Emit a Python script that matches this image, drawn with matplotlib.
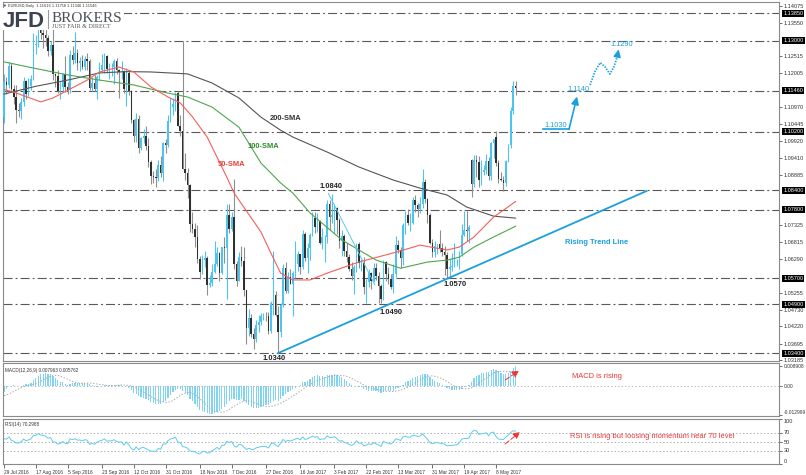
import matplotlib
matplotlib.use('Agg')
import matplotlib.pyplot as plt
import matplotlib.transforms as mtrans
from matplotlib.patches import Rectangle
from matplotlib.lines import Line2D
import numpy as np
import pandas as pd

plt.rcParams['font.family'] = ['Liberation Sans', 'DejaVu Sans']
plt.rcParams['lines.scale_dashes'] = False

# ---- EURUSD daily candles, 29 Jul 2016 .. 18 May 2017 (one row = 10 bars)
opens = [
    1.1067, 1.1174, 1.1165, 1.1223, 1.1151, 1.1128, 1.1086, 1.1085, 1.1112, 1.1177,
    1.1136, 1.1162, 1.1183, 1.1287, 1.1289, 1.1353, 1.1325, 1.1318, 1.1307, 1.1267,
    1.1287, 1.1199, 1.1193, 1.1146, 1.1157, 1.1197, 1.1157, 1.1150, 1.1255, 1.1240,
    1.1262, 1.1233, 1.1238, 1.1219, 1.1245, 1.1238, 1.1154, 1.1169, 1.1152, 1.1189,
    1.1211, 1.1225, 1.1254, 1.1213, 1.1219, 1.1220, 1.1239, 1.1210, 1.1204, 1.1206,
    1.1153, 1.1200, 1.1144, 1.1055, 1.1006, 1.1059, 1.0969, 1.1001, 1.1007, 1.0975,
    1.0928, 1.0885, 1.0880, 1.0877, 1.0917, 1.0893, 1.0985, 1.0981, 1.1053, 1.1097,
    1.1107, 1.1138, 1.1039, 1.1023, 1.0907, 1.0894, 1.0856, 1.0737, 1.0720, 1.0696,
    1.0629, 1.0588, 1.0627, 1.0633, 1.0551, 1.0555, 1.0589, 1.0613, 1.0649, 1.0586,
    1.0665, 1.0663, 1.0763, 1.0720, 1.0759, 1.0615, 1.0562, 1.0636, 1.0624, 1.0533,
    1.0417, 1.0448, 1.0399, 1.0384, 1.0426, 1.0437, 1.0455, 1.0455, 1.0453, 1.0408,
    1.0494, 1.0520, 1.0456, 1.0404, 1.0488, 1.0603, 1.0531, 1.0574, 1.0554, 1.0586,
    1.0615, 1.0644, 1.0604, 1.0705, 1.0633, 1.0662, 1.0704, 1.0754, 1.0727, 1.0747,
    1.0677, 1.0696, 1.0697, 1.0799, 1.0759, 1.0764, 1.0786, 1.0748, 1.0684, 1.0700,
    1.0654, 1.0637, 1.0600, 1.0576, 1.0604, 1.0676, 1.0617, 1.0617, 1.0542, 1.0558,
    1.0586, 1.0561, 1.0603, 1.0576, 1.0546, 1.0505, 1.0620, 1.0582, 1.0567, 1.0543,
    1.0582, 1.0671, 1.0658, 1.0633, 1.0733, 1.0764, 1.0740, 1.0741, 1.0810, 1.0796,
    1.0782, 1.0797, 1.0865, 1.0815, 1.0765, 1.0678, 1.0651, 1.0668, 1.0675, 1.0662,
    1.0650, 1.0643, 1.0598, 1.0605, 1.0609, 1.0613, 1.0615, 1.0644, 1.0704, 1.0717,
    1.0715, 1.0935, 1.0860, 1.0932, 1.0926, 1.0873, 1.0896, 1.0902, 1.0929, 1.0883,
    1.0986, 1.1005, 1.0925, 1.0874, 1.0871, 1.0864, 1.0931, 1.0980, 1.1085, 1.11616,
]
highs = [
    1.1198, 1.1189, 1.1234, 1.1230, 1.1164, 1.1164, 1.1110, 1.1124, 1.1187, 1.1180,
    1.1186, 1.1196, 1.1323, 1.1318, 1.1366, 1.1360, 1.1338, 1.1347, 1.1318, 1.1300,
    1.1342, 1.1200, 1.1209, 1.1174, 1.1201, 1.1252, 1.1173, 1.1270, 1.1284, 1.1327,
    1.1276, 1.1251, 1.1256, 1.1253, 1.1262, 1.1243, 1.1189, 1.1195, 1.1196, 1.1234,
    1.1258, 1.1261, 1.1256, 1.1232, 1.1230, 1.1244, 1.1248, 1.1212, 1.1238, 1.1211,
    1.1215, 1.1207, 1.1150, 1.1058, 1.1079, 1.1071, 1.1005, 1.1030, 1.1039, 1.1000,
    1.0932, 1.0900, 1.0905, 1.0933, 1.0946, 1.0989, 1.0999, 1.1071, 1.1124, 1.1123,
    1.1143, 1.1144, 1.1072, 1.1300, 1.0955, 1.0909, 1.0859, 1.0774, 1.0741, 1.0734,
    1.0640, 1.0641, 1.0653, 1.0638, 1.0579, 1.0614, 1.0686, 1.0666, 1.0652, 1.0666,
    1.0696, 1.0797, 1.0798, 1.0774, 1.0874, 1.0622, 1.0652, 1.0670, 1.0667, 1.0535,
    1.0475, 1.0460, 1.0418, 1.0442, 1.0456, 1.0462, 1.0462, 1.0467, 1.0466, 1.0500,
    1.0653, 1.0530, 1.0485, 1.0493, 1.0615, 1.0620, 1.0590, 1.0598, 1.0593, 1.0685,
    1.0653, 1.0645, 1.0719, 1.0711, 1.0680, 1.0708, 1.0774, 1.0775, 1.0770, 1.0749,
    1.0724, 1.0704, 1.0810, 1.0811, 1.0829, 1.0797, 1.0789, 1.0755, 1.0717, 1.0706,
    1.0677, 1.0646, 1.0620, 1.0610, 1.0679, 1.0681, 1.0629, 1.0634, 1.0567, 1.0600,
    1.0590, 1.0618, 1.0617, 1.0590, 1.0554, 1.0627, 1.0624, 1.0605, 1.0584, 1.0615,
    1.0699, 1.0689, 1.0666, 1.0739, 1.0777, 1.0783, 1.0772, 1.0819, 1.0825, 1.0802,
    1.0820, 1.0906, 1.0875, 1.0818, 1.0770, 1.0691, 1.0684, 1.0676, 1.0718, 1.0680,
    1.0668, 1.0650, 1.0628, 1.0648, 1.0677, 1.0628, 1.0654, 1.0737, 1.0777, 1.0778,
    1.0735, 1.0938, 1.0950, 1.0948, 1.0946, 1.0935, 1.0919, 1.0951, 1.0943, 1.0990,
    1.0999, 1.1023, 1.0935, 1.0898, 1.0884, 1.0935, 1.0983, 1.1095, 1.1175, 1.11758,
]
lows = [
    1.1046, 1.1137, 1.1155, 1.1143, 1.1107, 1.1046, 1.1066, 1.1059, 1.1100, 1.1122,
    1.1130, 1.1150, 1.1180, 1.1258, 1.1281, 1.1305, 1.1279, 1.1285, 1.1253, 1.1255,
    1.1180, 1.1157, 1.1140, 1.1122, 1.1146, 1.1143, 1.1136, 1.1140, 1.1229, 1.1230,
    1.1210, 1.1206, 1.1213, 1.1211, 1.1209, 1.1148, 1.1147, 1.1146, 1.1121, 1.1180,
    1.1207, 1.1201, 1.1201, 1.1181, 1.1191, 1.1167, 1.1198, 1.1123, 1.1183, 1.1139,
    1.1100, 1.1134, 1.1048, 1.0990, 1.0988, 1.0956, 1.0963, 1.0985, 1.0965, 1.0911,
    1.0859, 1.0862, 1.0851, 1.0870, 1.0880, 1.0870, 1.0954, 1.0973, 1.1049, 1.1071,
    1.1085, 1.1038, 1.1008, 1.0905, 1.0872, 1.0816, 1.0712, 1.0709, 1.0665, 1.0618,
    1.0569, 1.0583, 1.0604, 1.0518, 1.0543, 1.0546, 1.0587, 1.0608, 1.0561, 1.0584,
    1.0618, 1.0505, 1.0709, 1.0714, 1.0598, 1.0545, 1.0561, 1.0609, 1.0517, 1.0367,
    1.0393, 1.0389, 1.0352, 1.0374, 1.0406, 1.0426, 1.0443, 1.0438, 1.0399, 1.0403,
    1.0456, 1.0453, 1.0340, 1.0389, 1.0483, 1.0524, 1.0524, 1.0552, 1.0453, 1.0572,
    1.0591, 1.0583, 1.0598, 1.0624, 1.0587, 1.0626, 1.0701, 1.0709, 1.0713, 1.0676,
    1.0659, 1.0619, 1.0677, 1.0717, 1.0740, 1.0710, 1.0707, 1.0664, 1.0640, 1.0640,
    1.0620, 1.0591, 1.0565, 1.0521, 1.0589, 1.0603, 1.0592, 1.0522, 1.0494, 1.0542,
    1.0536, 1.0560, 1.0564, 1.0494, 1.0494, 1.0502, 1.0562, 1.0553, 1.0536, 1.0525,
    1.0575, 1.0647, 1.0601, 1.0611, 1.0706, 1.0733, 1.0715, 1.0736, 1.0775, 1.0759,
    1.0770, 1.0785, 1.0800, 1.0740, 1.0675, 1.0635, 1.0635, 1.0645, 1.0651, 1.0640,
    1.0580, 1.0570, 1.0570, 1.0592, 1.0606, 1.0607, 1.0598, 1.0638, 1.0700, 1.0685,
    1.0680, 1.0821, 1.0850, 1.0880, 1.0851, 1.0858, 1.0888, 1.0891, 1.0872, 1.0873,
    1.0940, 1.0916, 1.0863, 1.0870, 1.0838, 1.0855, 1.0926, 1.0970, 1.1076, 1.11346,
]
closes = [
    1.1174, 1.1165, 1.1223, 1.1151, 1.1128, 1.1086, 1.1085, 1.1112, 1.1177, 1.1136,
    1.1162, 1.1183, 1.1287, 1.1289, 1.1353, 1.1325, 1.1318, 1.1307, 1.1267, 1.1287,
    1.1199, 1.1193, 1.1146, 1.1157, 1.1197, 1.1157, 1.1150, 1.1255, 1.1240, 1.1262,
    1.1233, 1.1238, 1.1219, 1.1245, 1.1238, 1.1154, 1.1169, 1.1152, 1.1189, 1.1211,
    1.1225, 1.1254, 1.1213, 1.1219, 1.1220, 1.1239, 1.1210, 1.1204, 1.1206, 1.1153,
    1.1200, 1.1144, 1.1055, 1.1006, 1.1059, 1.0969, 1.1001, 1.1007, 1.0975, 1.0928,
    1.0885, 1.0880, 1.0877, 1.0917, 1.0893, 1.0985, 1.0981, 1.1053, 1.1097, 1.1107,
    1.1138, 1.1039, 1.1023, 1.0907, 1.0894, 1.0856, 1.0737, 1.0720, 1.0696, 1.0629,
    1.0588, 1.0627, 1.0633, 1.0551, 1.0555, 1.0589, 1.0613, 1.0649, 1.0586, 1.0665,
    1.0663, 1.0763, 1.0720, 1.0759, 1.0615, 1.0562, 1.0636, 1.0624, 1.0533, 1.0417,
    1.0448, 1.0399, 1.0384, 1.0426, 1.0437, 1.0455, 1.0455, 1.0453, 1.0408, 1.0494,
    1.0520, 1.0456, 1.0404, 1.0488, 1.0603, 1.0531, 1.0574, 1.0554, 1.0586, 1.0615,
    1.0644, 1.0604, 1.0705, 1.0633, 1.0662, 1.0704, 1.0754, 1.0727, 1.0747, 1.0677,
    1.0696, 1.0697, 1.0799, 1.0759, 1.0764, 1.0786, 1.0748, 1.0684, 1.0700, 1.0654,
    1.0637, 1.0600, 1.0576, 1.0604, 1.0676, 1.0617, 1.0617, 1.0542, 1.0558, 1.0586,
    1.0561, 1.0603, 1.0576, 1.0546, 1.0505, 1.0620, 1.0582, 1.0567, 1.0543, 1.0582,
    1.0671, 1.0658, 1.0633, 1.0733, 1.0764, 1.0740, 1.0741, 1.0810, 1.0796, 1.0782,
    1.0797, 1.0865, 1.0815, 1.0765, 1.0678, 1.0651, 1.0668, 1.0675, 1.0662, 1.0650,
    1.0643, 1.0598, 1.0605, 1.0609, 1.0613, 1.0615, 1.0644, 1.0704, 1.0717, 1.0715,
    1.0727, 1.0860, 1.0932, 1.0926, 1.0873, 1.0896, 1.0902, 1.0929, 1.0883, 1.0986,
    1.0998, 1.0925, 1.0874, 1.0871, 1.0864, 1.0931, 1.0980, 1.1085, 1.1160, 1.11546,
]
# closes before the visible window (Jun-Jul 2016), only used to seed MACD / RSI
prior_closes = [
    1.1187, 1.1152, 1.1366, 1.1355, 1.1355, 1.1393, 1.1315, 1.1252, 1.1287, 1.1212,
    1.1261, 1.1222, 1.1280, 1.1310, 1.1271, 1.1293, 1.1380, 1.1115, 1.1017, 1.1069,
    1.1124, 1.1105, 1.1135, 1.1135, 1.1072, 1.1094, 1.1060, 1.1052, 1.1056, 1.1060,
    1.1091, 1.1124, 1.1039, 1.1067, 1.1021, 1.1018, 1.1026, 1.0976, 1.0993, 1.0995,
    1.1060, 1.1067,
]

# moving averages (bar index, value)
sma200_x = [0, 13, 26, 39, 50, 60, 75, 85, 96, 105, 113, 118, 132, 145, 159, 170, 181, 189, 200, 209]
sma200 = [1.1136, 1.1160, 1.1179, 1.1201, 1.1205, 1.1204, 1.1198, 1.1170, 1.1124, 1.1065,
          1.1025, 1.1004, 1.0958, 1.0912, 1.0872, 1.0847, 1.0826, 1.0789, 1.0761, 1.0755]
sma100_x = [0, 12, 26, 39, 53, 67, 75, 85, 96, 105, 113, 118, 125, 138, 152, 162, 173, 181, 186, 192, 200, 209]
sma100 = [1.1235, 1.1216, 1.1195, 1.1179, 1.1164, 1.1139, 1.1127, 1.1096, 1.1034, 1.0924, 1.0863,
          1.0832, 1.0771, 1.0688, 1.0626, 1.0601, 1.0620, 1.0626, 1.0635, 1.0666, 1.0697, 1.0730]
sma50_x = [0, 4, 15, 20, 34, 39, 47, 53, 60, 67, 72, 77, 83, 91, 94, 105, 109, 113, 118, 125,
           132, 145, 159, 170, 181, 186, 192, 200, 209]
sma50 = [1.1150, 1.1142, 1.1112, 1.1124, 1.1179, 1.1204, 1.1219, 1.1204, 1.1158, 1.1127,
         1.1109, 1.1066, 1.1004, 1.0881, 1.0832, 1.0712, 1.0648, 1.0586, 1.0565, 1.0565,
         1.0586, 1.0620, 1.0648, 1.0672, 1.0657, 1.0666, 1.0697, 1.0758, 1.0806]

levels = [1.1385, 1.1300, 1.1146, 1.1020, 1.0840, 1.0780, 1.0570, 1.0490, 1.0340]
price_ticks = [1.14075, 1.13550, 1.12515, 1.12005, 1.10970, 1.10445, 1.09920, 1.09410,
               1.08885, 1.07325, 1.06815, 1.06290, 1.05255, 1.04730, 1.04220, 1.03695,
               1.03185]
date_ticks = ['29 Jul 2016', '17 Aug 2016', '5 Sep 2016', '23 Sep 2016', '12 Oct 2016',
              '31 Oct 2016', '18 Nov 2016', '7 Dec 2016', '27 Dec 2016', '16 Jan 2017',
              '3 Feb 2017', '22 Feb 2017', '13 Mar 2017', '31 Mar 2017', '19 Apr 2017',
              '8 May 2017']

days = pd.bdate_range('2016-07-29', '2017-05-18')
x = np.arange(len(closes))
o, h, l, c = (np.array(v) for v in (opens, highs, lows, closes))

# indicators from the closes
s = pd.Series(prior_closes + closes)
n0 = len(prior_closes)
macd_full = s.ewm(span=12, adjust=False).mean() - s.ewm(span=26, adjust=False).mean()
macd = macd_full.values[n0:]
signal = macd_full.rolling(9).mean().values[n0:]
d = s.diff()
gain = d.clip(lower=0).ewm(alpha=1 / 14, adjust=False).mean()
loss = (-d.clip(upper=0)).ewm(alpha=1 / 14, adjust=False).mean()
rsi = (100 - 100 / (1 + gain / loss)).values[n0:]

BULL = '#4fc3ee'
BEAR = '#303030'
BLUE = '#1aa0dc'
RED = '#ee3535'

W, H = 806, 475
fig = plt.figure(figsize=(W / 100, H / 100), dpi=100)


def box(top, bottom):
    return [3 / W, 1 - bottom / H, 776 / W, (bottom - top) / H]


ax = fig.add_axes(box(2, 361))
axm = fig.add_axes(box(363, 416), sharex=ax)
axr = fig.add_axes(box(419, 464), sharex=ax)

for a in (ax, axm, axr):
    for sp in a.spines.values():
        sp.set_color('#8a8a8a')
        sp.set_linewidth(0.8)
    a.yaxis.tick_right()
    a.tick_params(axis='y', labelsize=4, length=2, width=0.5, pad=1.5,
                  colors='#333333')
ax.tick_params(axis='x', bottom=False, labelbottom=False)
axm.tick_params(axis='x', bottom=False, labelbottom=False)

# ---- price panel
for lv in levels:
    ax.axhline(lv, color='#5a5a5a', lw=0.8, dashes=(6.5, 2.2, 1.4, 2.2), zorder=1)

up = c >= o
ax.vlines(x[up], l[up], h[up], color=BULL, lw=0.8, zorder=2)
ax.vlines(x[~up], l[~up], h[~up], color='#8f8f8f', lw=0.8, zorder=2)
ax.bar(x, np.maximum(np.abs(c - o), 0.00008), bottom=np.minimum(o, c), width=0.62,
       color=np.where(up, BULL, BEAR), lw=0, zorder=3)

ax.plot(sma200_x, sma200, color='#555555', lw=0.8, zorder=4)
ax.plot(sma100_x, sma100, color='#4fa64f', lw=0.8, zorder=4)
ax.plot(sma50_x, sma50, color='#f2605a', lw=0.8, zorder=4)

# trend lines
ax.plot([111.9, 262.5], [1.0340, 1.08383], color=BLUE, lw=1.3, zorder=5)
ax.plot([132.5, 151.5], [1.0831, 1.0550], color='#5cc8f0', lw=0.7, zorder=5)

lab = dict(fontsize=5.4, weight='bold', ha='center', va='center', zorder=6)
ax.text(115.2, 1.10625, '200-SMA', color='#333333', **lab)
ax.text(105.8, 1.09765, '100-SMA', color='#2e8b2e', **lab)
ax.text(92.9, 1.09212, '50-SMA', color='#e8403a', **lab)
ax.text(133.4, 1.08515, '1.0840', color='#222222', **lab)
ax.text(158.1, 1.04643, '1.0490', color='#222222', **lab)
ax.text(184.4, 1.05525, '1.0570', color='#222222', **lab)
ax.text(110.3, 1.0325, '1.0340', color='#222222', clip_on=False, **lab)
ax.text(242.0, 1.0679, 'Rising Trend Line', color=BLUE, **lab)

blab = dict(fontsize=5.3, color=BLUE, ha='center', va='center', zorder=6)
ax.text(225.5, 1.10410, '1.1030', **blab)
ax.text(234.5, 1.11516, '1.1140', **blab)
ax.text(252.3, 1.12889, '1.1290', **blab)
ax.plot([220.2, 230.8], [1.10278, 1.10278], color=BLUE, lw=1.2, zorder=6)
ax.annotate('', xy=(234.1, 1.11286), xytext=(230.8, 1.10278),
            arrowprops=dict(arrowstyle='-|>,head_width=0.22,head_length=0.45',
                            color=BLUE, lw=1.2, mutation_scale=10,
                            shrinkA=0, shrinkB=0), zorder=6)
path_x = [239.4, 241.4, 243.5, 245.5, 247.5, 249.2, 250.5]
path_y = [1.11639, 1.12048, 1.12324, 1.12201, 1.11977, 1.12201, 1.12508]
ax.plot(path_x, path_y, color=BLUE, lw=1.3, ls=(0, (1, 1)), zorder=6)
ax.annotate('', xy=(251.1, 1.12736), xytext=(250.5, 1.12508),
            arrowprops=dict(arrowstyle='-|>,head_width=0.22,head_length=0.45',
                            color=BLUE, lw=1.0, mutation_scale=10,
                            shrinkA=0, shrinkB=0), zorder=6)

ax.set_xlim(-0.41, 316.6)
ax.set_ylim(1.03160, 1.14189)
ax.set_yticks(price_ticks)
ax.set_yticklabels(['%.5f' % v for v in price_ticks])
tr = mtrans.blended_transform_factory(ax.transAxes, ax.transData)
for lv in levels:
    ax.text(1.0055, lv, '%.5f' % lv, transform=tr, fontsize=4, color='white',
            ha='left', va='center', clip_on=False, zorder=10,
            bbox=dict(boxstyle='square,pad=0.18', fc='black', ec='none'))

# ---- MACD panel
axm.bar(x, macd, width=0.5, color='#7fd3f3', lw=0)
axm.plot(x, signal, color='#a8a8a8', lw=0.7, ls=(0, (1, 1.2)))
axm.axhline(0, color='#b0b0b0', lw=0.6, ls=(0, (1, 1.5)))
axm.set_ylim(-0.0133, 0.0102)
axm.set_yticks([0.008908, 0.0, -0.012999])
axm.set_yticklabels(['0.008908', '0.00', '-0.012999'])
axm.tick_params(axis='y', labelsize=3.5)
axm.get_yticklabels()[-1].set_va('bottom')
axm.text(0.003, 0.9, 'MACD(12,26,9) 0.007963 0.005762', transform=axm.transAxes,
         fontsize=3.3, color='#333333', va='top')
axm.text(242.4, 0.00442, 'MACD is rising', color=RED, fontsize=5.4,
         ha='center', va='center')
axm.annotate('', xy=(210.4, 0.00676), xytext=(204.7, 0.00265),
             arrowprops=dict(arrowstyle='-|>,head_width=0.25,head_length=0.5',
                             color=RED, lw=0.7, ls='--', mutation_scale=8,
                             shrinkA=0, shrinkB=0))

# ---- RSI panel
for lv in (70, 50, 30):
    axr.axhline(lv, color='#a0a0a0', lw=0.6, ls=(0, (1, 1.5)))
axr.plot(x, rsi, color='#5ecbf0', lw=0.7)
axr.set_ylim(0, 100)
axr.set_yticks([100, 70, 50, 30, 0])
axr.set_yticklabels(['100', '70', '50', '30', '0'])
yl = axr.get_yticklabels()
yl[0].set_va('top')
yl[-1].set_va('bottom')
axr.text(0.003, 0.93, 'RSI(14) 70.2988', transform=axr.transAxes,
         fontsize=3.3, color='#333333', va='top')
axr.text(264.9, 60, 'RSI is rising but loosing momentum near 70 level', color=RED,
         fontsize=5.4, ha='center', va='center')
axr.annotate('', xy=(210.8, 71.1), xytext=(204.7, 44.4),
             arrowprops=dict(arrowstyle='-|>,head_width=0.25,head_length=0.5',
                             color=RED, lw=0.7, ls='--', mutation_scale=8,
                             shrinkA=0, shrinkB=0))

tick_pos = [days.get_loc(pd.Timestamp(t)) for t in date_ticks]
axr.set_xticks(tick_pos)
axr.set_xticklabels(date_ticks, ha='left')
axr.tick_params(axis='x', labelsize=3.4, length=3, width=0.5, pad=1,
                colors='#333333')

# ---- header and logo
fig.text(3 / W, 1 - 5.5 / H, '\u25bc EURUSD,Daily  1.11616 1.11758 1.11346 1.11546',
         fontsize=2.8, color='#333333', va='center')
fig.add_artist(Rectangle((0, 1 - 30 / H), 124 / W, 22 / H, transform=fig.transFigure,
                         fc='white', ec='none', zorder=5))
fig.add_artist(Line2D([47.7 / W, 47.7 / W], [1 - 10 / H, 1 - 28 / H],
                      color='#9a9a9a', lw=0.8, zorder=6))
fig.text(3 / W, 1 - 27 / H, 'JFD', fontsize=16, weight='bold', color='#3c434e',
         va='baseline', zorder=6)
fig.text(52 / W, 1 - 22 / H, 'BROKERS', family='Liberation Serif', fontsize=11,
         color='#4d535c', va='baseline', zorder=6)
fig.text(52 / W, 1 - 27.5 / H, 'JUST FAIR & DIRECT', family='Liberation Serif',
         fontsize=4.4, color='#555555', va='baseline', zorder=6)

fig.savefig('out.png', dpi=100)
